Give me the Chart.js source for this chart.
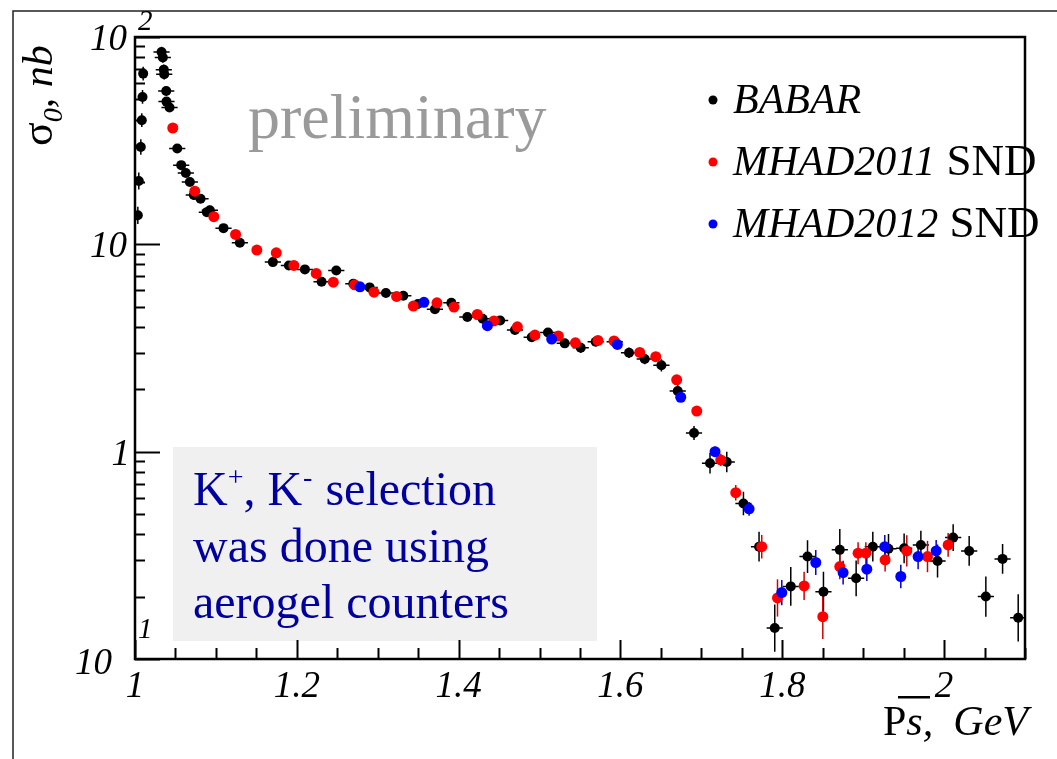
<!DOCTYPE html>
<html>
<head>
<meta charset="utf-8">
<script src="https://cdn.jsdelivr.net/npm/chart.js@4.4.1/dist/chart.umd.min.js"></script>
<style>
  html, body { margin: 0; padding: 0; background: #fff; }
  canvas { display: block; }
</style>
</head>
<body>
<canvas id="c" width="1057" height="759"></canvas>
<script>
// BABAR
const babarX = [1.0035,1.0047,1.0072,1.0084,1.0093,1.0101,1.0328,1.0344,1.0356,1.0361,1.0386,1.0389,1.0427,
  1.0522,1.0571,1.0628,1.0678,1.0727,1.0810,1.0888,1.0925,1.1094,1.1296,1.1704,1.1902,1.2100,1.2306,1.2488,
  1.2698,1.2900,1.3101,1.3316,1.3497,1.3707,1.3910,1.4108,1.4297,1.4513,1.4696,1.4903,1.5104,1.5311,1.5509,
  1.5694,1.5929,1.6106,1.6300,1.6506,1.6708,1.6909,1.7107,1.7314,1.7520,1.7713,1.7907,1.8105,1.8312,1.8509,
  1.8711,1.8913,1.9119,1.9313,1.9506,1.9713,1.9919,2.0112,2.0310,2.0516,2.0723,2.0916];
const babarY = [13.8,20.2,29.5,39.7,51.4,66.6,84.7,79.6,69.6,66.1,54.9,48.8,45.7,
  29.0,24.1,22.1,20.0,17.3,16.6,14.3,14.6,11.97,10.17,8.21,7.91,7.57,6.60,7.48,
  6.45,6.20,5.82,5.65,5.15,4.86,5.22,4.46,4.38,4.29,3.86,3.56,3.76,3.33,3.17,
  3.39,3.39,3.00,2.80,2.61,1.96,1.23,0.879,0.892,0.562,0.348,0.141,0.224,0.312,0.211,
  0.336,0.245,0.348,0.340,0.342,0.355,0.297,0.385,0.332,0.200,0.304,0.158];
// relative errors
const babarErr = [0.10,0.10,0.09,0.08,0.08,0.08,0.06,0.06,0.06,0.06,0.05,0.05,0.05,
  0.04,0.04,0.04,0.04,0.05,0.05,0.05,0.05,0.04,0.04,0.04,0.04,0.04,0.04,0.04,
  0.04,0.04,0.04,0.04,0.04,0.05,0.04,0.04,0.05,0.04,0.05,0.05,0.05,0.05,0.06,
  0.05,0.05,0.06,0.06,0.07,0.07,0.08,0.12,0.12,0.14,0.18,0.30,0.24,0.20,0.25,
  0.26,0.22,0.18,0.18,0.18,0.17,0.20,0.16,0.18,0.25,0.18,0.30];
const babarBin = 0.01; // half width of the horizontal bars

// SND, MHAD2011
const snd11X = [1.0467,1.0739,1.0974,1.1243,1.1506,1.1746,1.1963,1.2240,1.2451,1.2714,
  1.2953,1.3233,1.3440,1.3732,1.3942,1.4231,1.4436,1.4726,1.4943,1.5233,
  1.5443,1.5722,1.5920,1.6238,1.6436,1.6695,1.6943,1.7240,1.7425,1.7746,
  1.7941,1.8270,1.8501,1.8711,1.8937,1.9033,1.9271,1.9539,1.9795,2.0050];
const snd11Y = [36.4,18.05,13.6,11.16,9.38,9.10,7.91,7.24,6.57,6.38,
  5.88,5.61,5.04,5.22,4.98,4.59,4.27,4.00,3.65,3.61,
  3.35,3.44,3.42,3.01,2.87,2.22,1.57,0.912,0.634,0.348,
  0.197,0.225,0.160,0.279,0.324,0.324,0.301,0.332,0.312,0.355];
const snd11Err = [0.03,0.03,0.03,0.03,0.03,0.03,0.03,0.03,0.03,0.03,
  0.03,0.03,0.03,0.03,0.03,0.03,0.03,0.03,0.03,0.03,
  0.03,0.03,0.03,0.03,0.03,0.03,0.04,0.07,0.09,0.14,
  0.23,0.17,0.28,0.15,0.13,0.13,0.14,0.19,0.19,0.14];

// SND, MHAD2012
const snd12X = [1.2780,1.3571,1.4355,1.5150,1.5962,1.6745,1.7169,1.7590,1.7994,1.8414,
  1.8752,1.9045,1.9267,1.9465,1.9679,1.9902];
const snd12Y = [6.24,5.25,4.05,3.49,3.29,1.83,1.00,0.530,0.209,0.292,
  0.261,0.271,0.348,0.250,0.312,0.332];
const snd12Err = [0.03,0.03,0.03,0.03,0.03,0.04,0.06,0.08,0.15,0.15,
  0.14,0.14,0.14,0.14,0.15,0.13];

const xTickValues = [1, 1.2, 1.4, 1.6, 1.8, 2];
const xTickLabels = ['1', '1.2', '1.4', '1.6', '1.8', '2'];
const yTickValues = [0.1, 1, 10, 100];
const yTickLabels = ['10', '1', '10', '10'];
const yTickExp = ['1', '', '', '2'];

const legendNames = [['BABAR', ''], ['MHAD2011', ' SND'], ['MHAD2012', ' SND']];
const noteLines = ['was done using', 'aerogel counters'];

const SERIF = "'Liberation Serif', 'DejaVu Serif', serif";

function pts(xs, ys) {
  return xs.map((x, i) => ({ x: x, y: ys[i] }));
}

const rootStyle = {
  id: 'rootStyle',
  beforeDatasetsDraw(chart) {
    const ctx = chart.ctx;
    const xs = chart.scales.x, ys = chart.scales.y;
    const a = chart.chartArea;

    // note box
    ctx.save();
    ctx.fillStyle = '#f0f0f0';
    ctx.fillRect(173, 447, 424, 194);
    ctx.fillStyle = '#0000a0';
    ctx.textBaseline = 'alphabetic';
    ctx.textAlign = 'left';
    let x = 193;
    ctx.font = '48px ' + SERIF;
    ctx.fillText('K', x, 505); x += ctx.measureText('K').width;
    ctx.font = '28px ' + SERIF;
    ctx.fillText('+', x, 486); x += ctx.measureText('+').width;
    ctx.font = '48px ' + SERIF;
    ctx.fillText(', K', x, 505); x += ctx.measureText(', K').width;
    ctx.font = '28px ' + SERIF;
    ctx.fillText('-', x + 1, 486); x += ctx.measureText('-').width + 2;
    ctx.font = '48px ' + SERIF;
    ctx.fillText(' selection', x, 505);
    ctx.fillText(noteLines[0], 193, 562);
    ctx.fillText(noteLines[1], 193, 618);

    // preliminary
    ctx.fillStyle = '#9a9a9a';
    ctx.font = '64px ' + SERIF;
    ctx.fillText('preliminary', 248, 138);
    ctx.restore();

    // error bars
    ctx.save();
    ctx.beginPath();
    ctx.rect(a.left, a.top, a.right - a.left, a.bottom - a.top);
    ctx.clip();
    ctx.lineWidth = 1.5;
    chart.data.datasets.forEach(ds => {
      ctx.strokeStyle = ds.barColor;
      ds.data.forEach((p, i) => {
        const r = ds.relErr[i];
        const px = xs.getPixelForValue(p.x);
        const py = ys.getPixelForValue(p.y);
        ctx.beginPath();
        ctx.moveTo(px, ys.getPixelForValue(p.y * (1 + r)));
        ctx.lineTo(px, ys.getPixelForValue(p.y / (1 + r)));
        if (ds.xBin) {
          const hw = p.x < 1.02 ? ds.xBin * 0.3 : ds.xBin;
          ctx.moveTo(xs.getPixelForValue(p.x - hw), py);
          ctx.lineTo(xs.getPixelForValue(p.x + hw), py);
        }
        ctx.stroke();
      });
    });
    ctx.restore();
  },
  afterDraw(chart) {
    const ctx = chart.ctx;
    const xs = chart.scales.x, ys = chart.scales.y;
    const a = chart.chartArea;
    ctx.save();

    // outer pad frame
    ctx.strokeStyle = '#222';
    ctx.lineWidth = 1.5;
    ctx.beginPath();
    ctx.moveTo(13, 759);
    ctx.lineTo(13, 11);
    ctx.lineTo(1057, 11);
    ctx.stroke();

    // plot frame
    ctx.strokeStyle = '#000';
    ctx.lineWidth = 2.5;
    ctx.strokeRect(a.left, a.top, a.right - a.left, a.bottom - a.top);

    // x ticks
    ctx.lineWidth = 2;
    ctx.beginPath();
    for (let v = 1; v <= xs.max + 1e-9; v += 0.05) {
      const px = Math.round(xs.getPixelForValue(v)) + 0.5;
      const major = xTickValues.some(t => Math.abs(t - v) < 1e-6);
      ctx.moveTo(px, a.bottom);
      ctx.lineTo(px, a.bottom - (major ? 19 : 11));
    }
    // y ticks
    for (let d = ys.min; d < ys.max * 0.999; d *= 10) {
      for (let k = 1; k <= 10; k++) {
        const py = Math.round(ys.getPixelForValue(d * k)) + 0.5;
        const major = (k === 1 || k === 10);
        ctx.moveTo(a.left, py);
        ctx.lineTo(a.left + (major ? 25 : 10), py);
      }
    }
    ctx.stroke();

    // x tick labels
    ctx.fillStyle = '#000';
    ctx.font = 'italic 37px ' + SERIF;
    ctx.textAlign = 'center';
    ctx.textBaseline = 'alphabetic';
    xTickValues.forEach((v, i) => {
      ctx.fillText(xTickLabels[i], xs.getPixelForValue(v), 697);
    });

    // y tick labels
    yTickValues.forEach((v, i) => {
      const py = ys.getPixelForValue(v);
      ctx.font = 'italic 37px ' + SERIF;
      ctx.textAlign = 'right';
      if (v < 1) {
        ctx.fillText(yTickLabels[i], 112, py + 15);
      } else {
        ctx.fillText(yTickLabels[i], v > 1 ? 127 : 130, py + 13);
      }
      if (yTickExp[i]) {
        ctx.font = 'italic 29px ' + SERIF;
        ctx.textAlign = 'left';
        ctx.fillText(yTickExp[i], 138, v < 1 ? py - 21 : py - 7);
      }
    });

    // y axis title
    ctx.save();
    ctx.translate(52, 146);
    ctx.rotate(-Math.PI / 2);
    ctx.textAlign = 'left';
    let tx = 0;
    ctx.font = '44px ' + SERIF;
    ctx.fillText('\u03C3', tx, 0); tx += ctx.measureText('\u03C3').width;
    ctx.font = 'italic 28px ' + SERIF;
    ctx.fillText('0', tx, 10); tx += ctx.measureText('0').width;
    ctx.font = 'italic 42px ' + SERIF;
    ctx.fillText(', nb', tx, 0);
    ctx.restore();

    // x axis title
    ctx.textAlign = 'left';
    ctx.font = 'italic 42px ' + SERIF;
    const gev = 'GeV';
    const gevW = ctx.measureText(gev).width;
    ctx.fillText(gev, 1028 - gevW, 735);
    ctx.font = '42px ' + SERIF;
    ctx.fillText('P', 883, 735);
    const pw = ctx.measureText('P').width;
    ctx.font = 'italic 42px ' + SERIF;
    ctx.fillText('s,', 883 + pw, 735);
    ctx.fillRect(898, 696, 32, 2.5);

    // legend
    const colors = chart.data.datasets.map(ds => ds.backgroundColor);
    legendNames.forEach((n, i) => {
      const ly = 113 + i * 62;
      ctx.fillStyle = colors[i];
      ctx.beginPath();
      ctx.arc(713, ly - 13, 4.5, 0, Math.PI * 2);
      ctx.fill();
      ctx.fillStyle = '#000';
      ctx.font = 'italic 42px ' + SERIF;
      ctx.fillText(n[0], 733, ly);
      const w = ctx.measureText(n[0]).width;
      if (n[1]) {
        ctx.font = '45px ' + SERIF;
        ctx.fillText(n[1], 733 + w, ly);
      }
    });
    ctx.restore();
  }
};

new Chart(document.getElementById('c').getContext('2d'), {
  type: 'scatter',
  data: {
    datasets: [
      {
        label: 'BABAR',
        data: pts(babarX, babarY),
        relErr: babarErr,
        xBin: babarBin,
        barColor: '#000',
        backgroundColor: '#000',
        borderWidth: 0,
        pointRadius: 5,
        order: 3
      },
      {
        label: 'MHAD2011 SND',
        data: pts(snd11X, snd11Y),
        relErr: snd11Err,
        barColor: '#d00000',
        backgroundColor: '#ff0000',
        borderWidth: 0,
        pointRadius: 5.5,
        order: 2
      },
      {
        label: 'MHAD2012 SND',
        data: pts(snd12X, snd12Y),
        relErr: snd12Err,
        barColor: '#0000d0',
        backgroundColor: '#0000ff',
        borderWidth: 0,
        pointRadius: 5.5,
        order: 1
      }
    ]
  },
  options: {
    responsive: false,
    animation: false,
    devicePixelRatio: 1,
    layout: { padding: { left: 135, top: 37, right: 32, bottom: 100 } },
    plugins: { legend: { display: false }, tooltip: { enabled: false } },
    scales: {
      x: { type: 'linear', min: 1, max: 2.1, display: false },
      y: { type: 'logarithmic', min: 0.1, max: 100, display: false }
    }
  },
  plugins: [rootStyle]
});
</script>
</body>
</html>
